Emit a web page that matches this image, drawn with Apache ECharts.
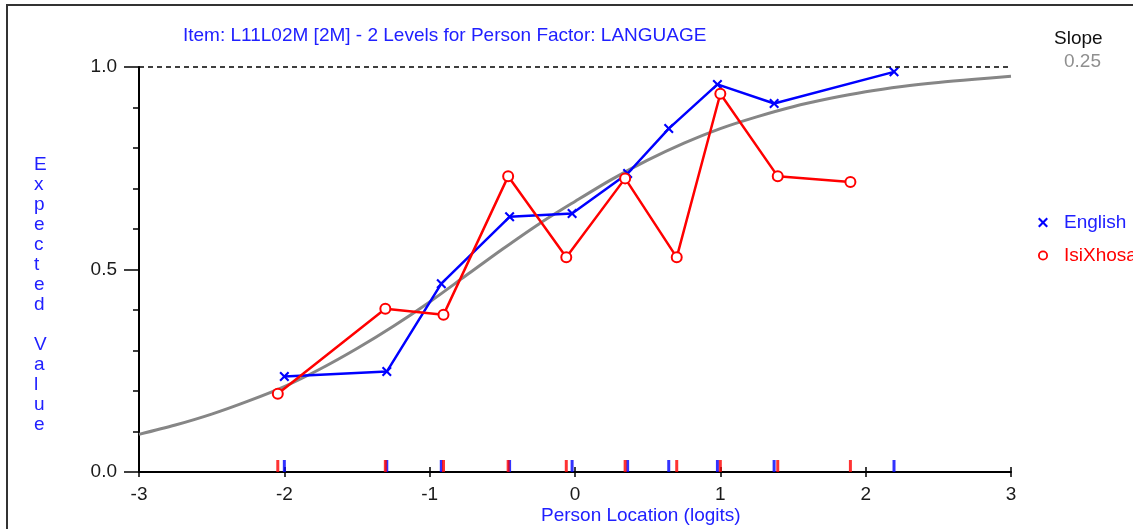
<!DOCTYPE html>
<html>
<head>
<meta charset="utf-8">
<title>Item L11L02M - LANGUAGE</title>
<script src="https://cdn.jsdelivr.net/npm/echarts@6/dist/echarts.min.js"></script>
<style>
  html, body { margin: 0; padding: 0; background: #fff; }
  #chart { width: 1133px; height: 529px; }
</style>
</head>
<body>
<div id="chart"></div>
<script>
// Class-interval means by group (person location in logits, mean observed score)
const englishX = [-2.0, -1.295, -0.92, -0.45, -0.02, 0.362, 0.645, 0.98, 1.37, 2.195];
const englishY = [0.236, 0.248, 0.465, 0.630, 0.638, 0.737, 0.848, 0.957, 0.910, 0.988];
const xhosaX = [-2.045, -1.305, -0.905, -0.46, -0.06, 0.345, 0.70, 1.0, 1.395, 1.895];
const xhosaY = [0.193, 0.403, 0.388, 0.730, 0.530, 0.725, 0.530, 0.934, 0.730, 0.716];

// Expected-value curve, read at quarter-logit steps
const curveX = [-3, -2.75, -2.5, -2.25, -2, -1.75, -1.5, -1.25, -1, -0.75, -0.5, -0.25, 0,
                0.25, 0.5, 0.75, 1, 1.25, 1.5, 1.75, 2, 2.25, 2.5, 2.75, 3];
const curveY = [0.093, 0.116, 0.143, 0.175, 0.211, 0.255, 0.305, 0.360, 0.420, 0.485, 0.550, 0.612, 0.668,
                0.722, 0.770, 0.812, 0.848, 0.877, 0.902, 0.922, 0.939, 0.952, 0.962, 0.970, 0.977];

const xTicks = [-3, -2, -1, 0, 1, 2, 3];
const yTickLabels = ['0.0', '0.5', '1.0'];
const slopeValue = '0.25';

const BLUE = '#0000ff';
const RED = '#ff0000';
const TEXT_BLUE = '#2020ff';
const FONT = "'Liberation Sans', Arial, sans-serif";
const FS = 19;

// bold "x" marker and open ring marker
const crossPath = 'path://M0,1.5 L1.5,0 L5,3.5 L8.5,0 L10,1.5 L6.5,5 L10,8.5 L8.5,10 L5,6.5 L1.5,10 L0,8.5 L3.5,5 Z';
const ringPath = 'path://M5,0 A5,5 0 1,1 4.99,0 Z M5,1.8 A3.2,3.2 0 1,0 5.01,1.8 Z';

const zip = (xs, ys) => xs.map((x, i) => [x, ys[i]]);

const chart = echarts.init(document.getElementById('chart'), null, { renderer: 'canvas' });

chart.setOption({
  animation: false,
  backgroundColor: '#fff',
  textStyle: { fontFamily: FONT },
  title: {
    text: 'Item: L11L02M [2M] - 2 Levels for Person Factor: LANGUAGE',
    left: 183,
    top: 26,
    padding: 0,
    textStyle: { color: TEXT_BLUE, fontSize: FS, fontWeight: 'normal', fontFamily: FONT }
  },
  grid: { left: 139, right: 122, top: 67, bottom: 57, containLabel: false },
  legend: {
    orient: 'vertical',
    left: 1033,
    top: 208,
    itemWidth: 32,
    itemHeight: 10,
    itemGap: 14,
    selectedMode: false,
    textStyle: { fontSize: FS, fontFamily: FONT },
    data: [
      { name: 'English', icon: crossPath, itemStyle: { color: BLUE }, textStyle: { color: TEXT_BLUE } },
      { name: 'IsiXhosa', icon: ringPath, itemStyle: { color: RED, borderWidth: 0 }, textStyle: { color: RED } }
    ]
  },
  xAxis: [
    {
      type: 'value', min: -3, max: 3, interval: 1,
      axisLine: { show: true, onZero: false, lineStyle: { color: '#000', width: 2 } },
      axisTick: { show: true, length: 5, lineStyle: { color: '#000', width: 1.5 } },
      axisLabel: {
        fontSize: FS, color: '#1a1a1a', margin: 13, fontFamily: FONT,
        formatter: v => String(xTicks.find(t => Math.abs(t - v) < 1e-9))
      },
      splitLine: { show: false }
    },
    {
      type: 'value', min: -3, max: 3, interval: 1, position: 'bottom',
      axisLine: { show: false },
      axisTick: { show: true, inside: true, length: 5, lineStyle: { color: '#000', width: 1.5 } },
      axisLabel: { show: false },
      splitLine: { show: false }
    }
  ],
  yAxis: {
    type: 'value', min: 0, max: 1, interval: 0.5,
    axisLine: { show: true, onZero: false, lineStyle: { color: '#000', width: 2 } },
    axisTick: { show: true, length: 15, lineStyle: { color: '#000', width: 1.5 } },
    minorTick: { show: true, splitNumber: 5, length: 6, lineStyle: { color: '#000', width: 1.5 } },
    axisLabel: {
      fontSize: FS, color: '#1a1a1a', margin: 22, fontFamily: FONT,
      formatter: v => yTickLabels[Math.round(v * 2)]
    },
    splitLine: { show: false },
    minorSplitLine: { show: false }
  },
  series: [
    {
      name: 'Expected',
      type: 'line',
      data: zip(curveX, curveY),
      smooth: 0.3,
      showSymbol: false,
      silent: true,
      lineStyle: { color: '#868686', width: 3 },
      markLine: {
        silent: true,
        symbol: 'none',
        label: { show: false },
        lineStyle: { color: '#000', width: 1.5, type: [5, 4] },
        data: [{ yAxis: 1 }]
      },
      z: 2
    },
    {
      name: 'English',
      type: 'line',
      data: zip(englishX, englishY),
      symbol: crossPath,
      symbolSize: 10,
      lineStyle: { color: BLUE, width: 2.5 },
      itemStyle: { color: BLUE },
      z: 3
    },
    {
      name: 'IsiXhosa',
      type: 'line',
      data: zip(xhosaX, xhosaY),
      symbol: 'emptyCircle',
      symbolSize: 10,
      lineStyle: { color: RED, width: 2.5 },
      itemStyle: { color: RED, borderColor: RED, borderWidth: 2 },
      z: 4
    },
    {
      name: 'English locations',
      type: 'scatter',
      data: englishX.map(x => [x, 0]),
      symbol: 'rect',
      symbolSize: [3, 12],
      symbolOffset: [0, -6],
      clip: false,
      silent: true,
      itemStyle: { color: BLUE },
      z: 5
    },
    {
      name: 'IsiXhosa locations',
      type: 'scatter',
      data: xhosaX.map(x => [x, 0]),
      symbol: 'rect',
      symbolSize: [3, 12],
      symbolOffset: [0, -6],
      clip: false,
      silent: true,
      itemStyle: { color: RED },
      z: 6
    }
  ],
  graphic: [
    {
      type: 'rect', silent: true, z: 100,
      shape: { x: 7, y: 5, width: 1300, height: 700 },
      style: { fill: 'none', stroke: '#333', lineWidth: 2 }
    },
    {
      type: 'text', left: 34, top: 155, silent: true,
      style: {
        text: 'Expected Value'.split('').join('\n'),
        fill: TEXT_BLUE, font: FS + 'px ' + FONT, lineHeight: 20, align: 'center', width: 20
      }
    },
    {
      type: 'text', left: 541, top: 506, silent: true,
      style: { text: 'Person Location (logits)', fill: TEXT_BLUE, font: FS + 'px ' + FONT }
    },
    {
      type: 'text', left: 1054, top: 29, silent: true,
      style: { text: 'Slope', fill: '#111', font: FS + 'px ' + FONT }
    },
    {
      type: 'text', left: 1064, top: 52, silent: true,
      style: { text: slopeValue, fill: '#8f8f8f', font: FS + 'px ' + FONT }
    }
  ]
});
</script>
</body>
</html>
